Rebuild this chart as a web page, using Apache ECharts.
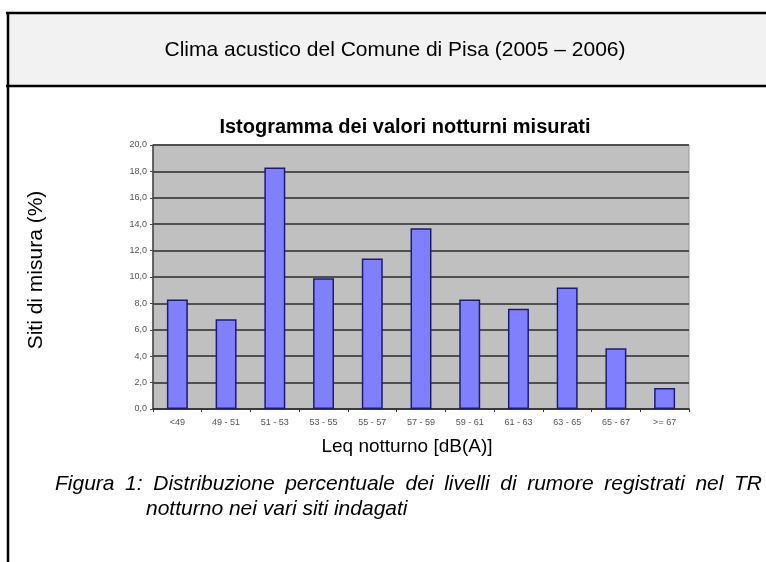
<!DOCTYPE html>
<html>
<head>
<meta charset="utf-8">
<script src="https://cdn.jsdelivr.net/npm/echarts@6/dist/echarts.min.js"></script>
<style>
  html, body { margin: 0; padding: 0; background: #ffffff; }
  #chart { width: 766px; height: 562px; }
</style>
</head>
<body>
<div id="chart"></div>
<script>
// Noise-level classes (Leq night, dB(A)) and share of measurement sites (%)
const categories = ['<49', '49 - 51', '51 - 53', '53 - 55', '55 - 57', '57 - 59', '59 - 61', '61 - 63', '63 - 65', '65 - 67', '>= 67'];
const siteShare = [8.3, 6.8, 18.3, 9.9, 11.4, 13.7, 8.3, 7.6, 9.2, 4.6, 1.6];
const yTicks = { min: 0, max: 20, step: 2 };

const headerText = 'Clima acustico del Comune di Pisa (2005 \u2013 2006)';
const chartTitle = 'Istogramma dei valori notturni misurati';
const yName = 'Siti di misura (%)';
const xName = 'Leq notturno [dB(A)]';
const captionLine1 = 'Figura 1: Distribuzione percentuale dei livelli di rumore registrati nel TR';
const captionLine2 = 'notturno nei vari siti indagati';

const font = '"Liberation Sans", Arial, sans-serif';
const captionFont = 'italic 21px ' + font;

// Lay out a justified caption line: words spread evenly between x0 and x1
function justifiedLine(text, x0, x1, y, cssFont) {
  const ctx = document.createElement('canvas').getContext('2d');
  ctx.font = cssFont;
  const words = text.split(' ');
  const widths = words.map(w => ctx.measureText(w).width);
  const total = widths.reduce((a, b) => a + b, 0);
  const gap = (x1 - x0 - total) / (words.length - 1);
  let x = x0;
  return words.map((w, i) => {
    const el = { type: 'text', x: x, y: y,
      style: { text: w, font: cssFont, fill: '#000', align: 'left', verticalAlign: 'middle' } };
    x += widths[i] + gap;
    return el;
  });
}

const chart = echarts.init(document.getElementById('chart'), null, { renderer: 'canvas' });

chart.setOption({
  backgroundColor: '#ffffff',
  animation: false,
  title: {
    text: chartTitle,
    left: 400,
    textAlign: 'center',
    top: 112,
    textStyle: { fontFamily: font, fontSize: 20, fontWeight: 'bold', color: '#000' }
  },
  grid: {
    left: 153, top: 145, width: 536, height: 264,
    show: true, backgroundColor: '#c0c0c0', borderColor: '#9a9a9a', borderWidth: 1
  },
  xAxis: {
    type: 'category',
    data: categories,
    axisLine: { lineStyle: { color: '#333', width: 1.5 } },
    axisTick: { show: true, length: 3, lineStyle: { color: '#333' } },
    axisLabel: { fontFamily: font, fontSize: 9, color: '#555', margin: 9 }
  },
  yAxis: {
    type: 'value',
    min: yTicks.min, max: yTicks.max, interval: yTicks.step,
    axisLine: { show: true, lineStyle: { color: '#444', width: 1.5 } },
    axisTick: { show: true, length: 3, lineStyle: { color: '#444' } },
    axisLabel: {
      fontFamily: font, fontSize: 9, color: '#555', margin: 6,
      formatter: v => v.toFixed(1).replace('.', ',')
    },
    splitLine: { show: true, lineStyle: { color: '#505050', width: 2 } }
  },
  series: [{
    type: 'bar',
    data: siteShare,
    barWidth: '43%',
    itemStyle: { color: '#8080ff', borderColor: '#1c1c70', borderWidth: 1.5 }
  }],
  graphic: [
    // header band with its frame
    { type: 'rect', z: -10, shape: { x: 7, y: 13, width: 770, height: 73 },
      style: { fill: '#f2f2f2', stroke: null } },
    { type: 'line', shape: { x1: 6, y1: 13, x2: 766, y2: 13 }, style: { stroke: '#000', lineWidth: 2.5 } },
    { type: 'line', shape: { x1: 6, y1: 86, x2: 766, y2: 86 }, style: { stroke: '#000', lineWidth: 2.5 } },
    { type: 'line', shape: { x1: 8, y1: 12, x2: 8, y2: 562 }, style: { stroke: '#000', lineWidth: 2.5 } },
    { type: 'text', x: 395, y: 50,
      style: { text: headerText, font: '21px ' + font, fill: '#000', align: 'center', verticalAlign: 'middle' } },
    // axis names
    { type: 'text', x: 36, y: 270, rotation: Math.PI / 2,
      style: { text: yName, font: '21px ' + font, fill: '#000', align: 'center', verticalAlign: 'middle' } },
    { type: 'text', x: 407, y: 447,
      style: { text: xName, font: '19px ' + font, fill: '#000', align: 'center', verticalAlign: 'middle' } },
    // figure caption
    ...justifiedLine(captionLine1, 55, 762, 484, captionFont),
    { type: 'text', x: 146, y: 509,
      style: { text: captionLine2, font: captionFont, fill: '#000', align: 'left', verticalAlign: 'middle' } }
  ]
});
</script>
</body>
</html>
